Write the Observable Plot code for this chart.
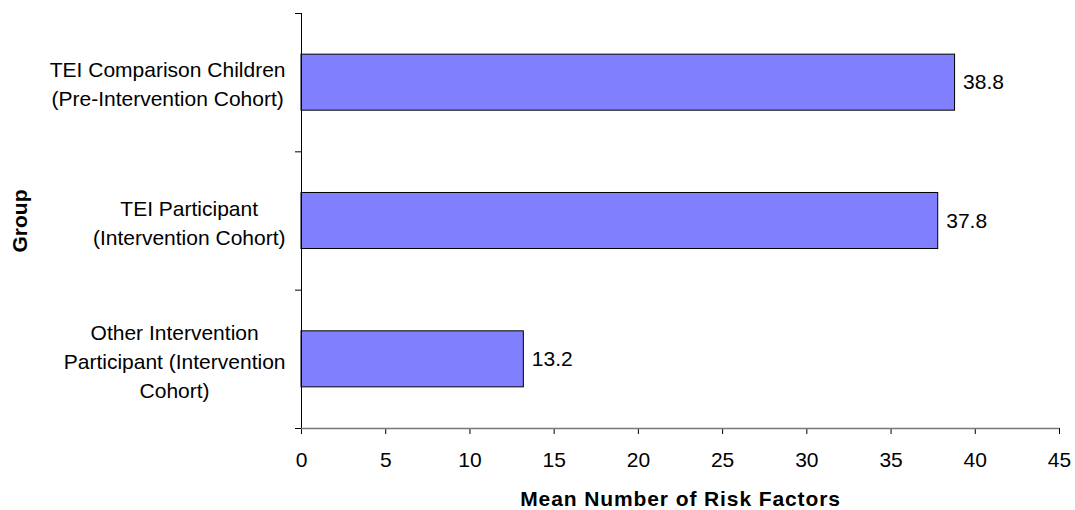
<!DOCTYPE html>
<html>
<head>
<meta charset="utf-8">
<script src="https://cdn.jsdelivr.net/npm/d3@7"></script>
<script src="https://cdn.jsdelivr.net/npm/@observablehq/plot@0.6"></script>
<style>
  body { margin: 0; background: #fff; }
  #chart [aria-label="x-axis label"] text,
  #chart [aria-label="y-axis label"] text { font-weight: bold; }
  #chart [aria-label="x-axis label"] text { letter-spacing: 0.9px; }
</style>
</head>
<body>
<div id="chart"></div>
<script>
// Groups, top to bottom, and their mean number of risk factors
const groups = [
  "TEI Comparison Children\n(Pre-Intervention Cohort)",
  "TEI Participant\n(Intervention Cohort)",
  "Other Intervention\nParticipant (Intervention\nCohort)"
];
const means = [38.8, 37.8, 13.2];
const xTicks = [0, 5, 10, 15, 20, 25, 30, 35, 40, 45];

const rows = groups.map((group, slot) => ({group, slot, mean: means[slot]}));
const barShare = 0.405; // bar thickness as a share of each group's slot

const chart = Plot.plot({
  width: 1075,
  height: 510,
  marginLeft: 301,
  marginRight: 16,
  marginTop: 13,
  marginBottom: 82,
  style: {fontFamily: "'Liberation Sans', Arial, sans-serif", fontSize: "21px", color: "#000", background: "#fff"},
  x: {domain: [0, 45]},
  y: {domain: [0, 3], reverse: true},
  marks: [
    Plot.rectX(rows, {
      x1: () => 0,
      x2: "mean",
      y1: d => d.slot + (1 - barShare) / 2,
      y2: d => d.slot + (1 + barShare) / 2,
      fill: "#8080FF",
      stroke: "#000",
      strokeWidth: 1
    }),
    Plot.text(rows, {
      x: "mean",
      y: d => d.slot + 0.5,
      text: d => d.mean.toFixed(1),
      textAnchor: "start",
      dx: 8,
      fill: "#000"
    }),
    Plot.axisX({
      ticks: xTicks,
      tickSize: 6,
      tickPadding: 18,
      label: "Mean Number of Risk Factors",
      labelAnchor: "center",
      labelOffset: 77,
      labelArrow: "none"
    }),
    // group boundaries on the vertical axis
    Plot.axisY({
      ticks: [0, 1, 2, 3],
      tickSize: 6,
      tickFormat: () => "",
      label: "Group",
      labelAnchor: "center",
      labelOffset: 289,
      labelArrow: "none"
    }),
    // group names, centred in each slot
    Plot.axisY({
      ticks: [0.5, 1.5, 2.5],
      tickSize: 0,
      tickPadding: 16,
      tickFormat: v => groups[Math.floor(v)],
      lineHeight: 1.38,
      label: null
    }),
    Plot.ruleX([0], {stroke: "#000"}),
    Plot.ruleY([3], {stroke: "#777", strokeWidth: 1.5})
  ]
});

document.getElementById("chart").append(chart);

// Centre each line of a multi-line group name within its own block,
// keeping the block's right edge against the axis.
chart.querySelectorAll('[aria-label="y-axis tick label"] text').forEach(t => {
  const spans = t.querySelectorAll("tspan");
  if (!spans.length) return;
  let maxW = 0;
  spans.forEach(s => { maxW = Math.max(maxW, s.getComputedTextLength()); });
  t.setAttribute("text-anchor", "middle");
  spans.forEach(s => s.setAttribute("x", -maxW / 2));
});
</script>
</body>
</html>
